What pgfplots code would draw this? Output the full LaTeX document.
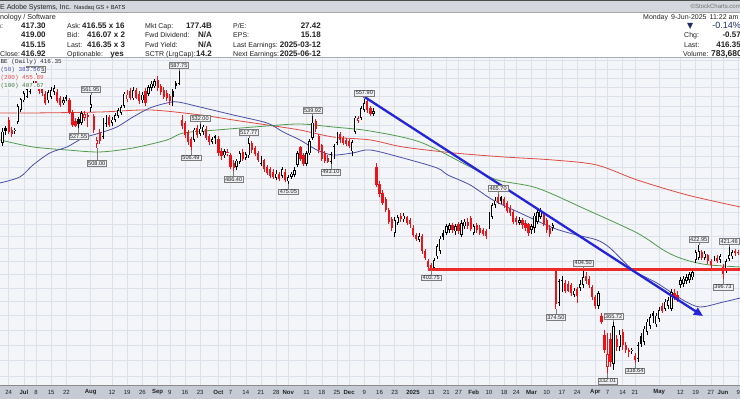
\documentclass[border=0pt]{standalone}
\usepackage{pgfplots}
\pgfplotsset{compat=1.18}
\usepackage{pgfplotstable}
\usepackage{fontspec}
\setmainfont{Liberation Sans}
\setmonofont{Liberation Mono}
\newfontfamily\dejavu{DejaVu Sans}
\usetikzlibrary{arrows.meta}

\definecolor{chartbg}{HTML}{F3F5F9}
\definecolor{gridc}{HTML}{DDE2EA}
\definecolor{candred}{HTML}{E8141A}
\definecolor{smablue}{HTML}{4B4FA6}
\definecolor{smared}{HTML}{DF4A42}
\definecolor{smagreen}{HTML}{4F9A4B}
\definecolor{trend}{HTML}{2424D8}
\definecolor{hline}{HTML}{EC2A2A}
\definecolor{topbar}{HTML}{D4D7DE}
\definecolor{axbar}{HTML}{C5CAD4}
\definecolor{sepgray}{HTML}{A9ADB6}
\definecolor{lblfill}{HTML}{EEEFF2}
\definecolor{lbldraw}{HTML}{7C7C7C}
\definecolor{navy}{HTML}{1F2F66}
\definecolor{txt}{HTML}{222222}

% OHLC, k: 0 hollow black, 1 filled black, 2 hollow red, 3 filled red
\pgfplotstableread{
x o h l c k
-2 513 528 510 524 0
-1 528 530 521 524.5 1
0 536 539 522 524 3
1 526 529 519 522 3
2 525 528 522 526 0
3 534 552 532 550 0
4 546 559 544 557 0
5 556 566 554 564 0
6 560 570 558 568 0
7 565 574 563 572 0
8 572 580 570 578 0
9 579 583.55 572 574 3
10 573 575 563 566 3
11 569 572 561 564 3
12 563 566 551 553 3
13 556 567 553 565 0
14 560 570 557 567 0
15 565 572 562 569 0
16 565 568 553 555 3
17 558 561 549 551 3
18 553 560 551 556 0
19 560 562 555 557 1
20 556 558 542 544 3
21 544 546 529 531 3
22 535 538 528.5 530 3
23 537 539 527.55 532 1
24 533 545 531 543 0
25 538 545 535 542 2
26 541 543 529 538.5 3
27 548 561.95 544 552 0
28 540 542 523 526 3
29 512 519 508 516 2
30 524 527 512 515 3
31 519 538 517 535 0
32 532 541 529 538 0
33 539 541 529 531 3
34 533 539 530 536 0
35 536 543 534 541 0
36 540 548 538 546 0
37 543 551 541 549 0
38 550 565 548 563 0
39 557 567 554 562 2
40 566 569 556 559 3
41 558 570 556 567 0
42 567 569 557 559 3
43 563 566 552 555 3
44 556 565 553 562 0
45 566 569 550 553 3
46 563 572 561 570 0
47 569 577 566 574 0
48 571 579 569 577 0
49 578 582 566 569 3
50 571 574 562 565 3
51 567 570 557 560 3
52 564 567 555 558 3
53 561 563 551 555 3
54 566 568 550 560 1
55 575 577 568 571 1
56 574 587.75 572 586 0
57 536 541 527 530 3
58 533 535 518 521 3
59 524 526 511 514 3
60 517 519 506.49 509 3
61 516 528 514 526 0
62 528 531 518 521 3
63 522 532 520 527 0
64 524 531 521 529 0
65 527 530 516 518 3
66 520 522 511 514 3
67 514 519 512 517 0
68 520 521 512 517.5 1
69 517 520 500 503 3
70 505 508 497 500 3
71 501 507 499 505 0
72 503 507 500 503.8 2
73 501 503 488 490 3
74 494 497 486.4 489 3
75 490 498 487 496 0
76 495 505 493 503 0
77 504 507 496 498 3
78 499 504 497 502 0
79 501 517.77 499 513 0
80 513 515 503 506 3
81 508 510 500 502 3
82 503 505 495 497 3
83 493 500 491 498 0
84 497 498 486 488 3
85 490 492 483 485 3
86 488 490 480 482 3
87 486 488 479 481 3
88 480 487 478 484 0
89 484 486 477 479 3
90 482 490 480 488 0
91 486 488 476 478 3
92 477 483 475.05 481 0
93 481 486 479 484 0
94 483 490 481 487 0
95 492 505 490 503 0
96 509 510 496 498 3
97 501 503 491 493 3
98 493 505 491 503 0
99 503 517 501 515 0
100 518 539.92 516 533 0
101 535 537 524 527 3
102 520 522 503 506 3
103 511 512 496 498 3
104 503 505 494 496 3
105 499 501 494 495 3
106 495 504 493.1 502 0
107 500 512 498 510 0
108 513 524 511 522 0
109 522 524 513 516 3
110 518 520 511 513 3
111 516 518 510 512 3
112 515 517 508 510 3
113 505 516 500 514 0
114 524 540 522 538 0
115 535 540 533 537.5 2
116 538 550 536 548 0
117 546 557.9 544 553 0
118 555 557 543 546 3
119 548 550 540 542 3
120 542 548 540 545 0
121 490 494 472 474 3
122 475 477 463 466 3
123 467 469 456 458 3
124 461 463 450 452 3
125 452 454 440 442 3
126 444 446 434 437 3
127 433 446 429 443 0
128 441 448 439 446 0
129 447 449 442 444 3
130 444 449 442 447 0
131 446 447 439 441 3
132 443 445 437 440 3
133 437 439 429 431 3
134 431 433 426 428 3
135 427 433 425 430 0
136 430 432 416 418 3
137 418 420 411 413 3
138 410 412 404.5 406 3
139 407 409 403.75 405 3
140 405 413 404 411 0
141 414 424 412 422 0
142 418 430 416 428 0
143 433 435 427 429 1
144 433 440 431 438 0
145 435 441 433 439 0
146 439 441 433 435 3
147 434 440 431 438 0
148 440 442 432 434 3
149 431 443 429 441 0
150 438 444 436 442 0
151 442 445 436 438 3
152 445 447 434 436 3
153 433 440 431 438 0
154 439 441 433 435 3
155 437 439 431 433 3
156 435 437 430 432 3
157 434 436 428 430.5 3
158 438 450 436 448 0
159 446 458 444 456 0
160 456 463 454 460 0
161 463 465.7 457 459 3
162 463 464 457 460 1
163 461 463 454 456 3
164 458 460 449 451 3
165 454 456 447 449 3
166 450 452 440 442 3
167 445 447 439 441.5 3
168 441 446 439 443 0
169 443 445 436 439 3
170 441 443 434 437 3
171 440 441 430 433 3
172 435 440 432 438 0
173 437 449 433 447 0
174 442 452 440 450 0
175 446 454 444 451 0
176 448 450 438 440 3
177 443 445 433 435 3
178 437 439 429 432 3
179 437 441 434 439 0
180 403 404 374.5 378 3
181 379 397 377 395 0
182 389 399 387 396 0
183 394 396 386 388 3
184 393 395 387 387.5 3
185 392 394 384 386 3
186 385 390 383 388 0
187 389 391 379 384 3
188 390 396 388 393 0
189 392 404.5 390 398 0
190 399 402 393 395 3
191 397 399 390 392 3
192 391 392 381 383 3
193 383 385 375 377 3
194 377 388 375 386 0
195 370 372 364 366 3
196 357 360 345 347 3
197 336 358 332.01 344 2
198 354 358 336 339 3
199 338 365.72 334 363 0
200 354 357 346 349 3
201 349 360 346 357 0
202 359 361 347 350 3
203 350 352 345 347 3
204 346.5 348 342 345.5 3
205 346 348 344 346.6 0
206 343 345 338.64 340 3
207 341 352 339 350 0
208 356 358 349 351 1
209 352 363 350 361 0
210 359 368 357 366 0
211 363 371 361 369 0
212 372 373 365 369.5 1
213 364 372 362 370 0
214 368 376 366 374 0
215 377 379 372 373.5 3
216 375 382 373 380 0
217 377 383 375 381 0
218 375 389 373 387 0
219 386 389 381 383 3
220 385 388 380 382 3
221 392 398 390 396 0
222 393 399 391 397 0
223 395 400 393 398 0
224 396 402 394 400 0
225 398 404 396 402 0
226 411 419 409 417 0
227 413 422.95 411 418 0
228 417 419 411 413 3
229 413 418 411 416 0
230 415 416 408 410 3
231 410 412 405 407 3
232 412 414 410 412.6 0
233 413 415 409 410 3
234 411 416 409 414 0
235 406 408 396.73 400 3
236 403 412 401 410 0
237 412 421.46 410 415 0
238 414 419 412 417 0
239 418 419.5 414 416.92 3
240 417.3 419 415.15 416.35 3
}\ohlc

\pgfplotstableread{
x y
-2.84 475.6
3.7 481.0
8.0 492.0
13.6 503.4
19.2 509.1
24.5 517.8
30.0 522.7
35.6 528.7
40.9 538.8
46.5 548.1
52.1 553.3
55.7 554.3
62.9 549.1
73.8 540.9
85.0 532.7
90.3 523.7
95.8 515.9
101.4 506.2
106.7 501.4
113.3 503.4
118.9 506.2
129.7 498.6
140.9 489.3
144.5 482.8
151.8 473.8
159.3 460.5
168.2 449.4
179.1 436.8
186.9 431.0
193.5 427.0
197.8 420.6
205.4 403.4
213.3 393.6
221.8 381.2
227.4 376.2
235.0 379.7
240.6 382.6
}\smaA

\pgfplotstableread{
x y
-2.84 542.9
8 542.9
30 543.9
46.5 546.0
63 540.9
73.8 535.8
85 530.7
95.8 525.7
106.7 518.8
118.9 515.9
129.7 509.1
146.2 503.4
162.6 499.6
179.1 496.7
193.5 492.0
206.7 478.3
223.2 464.9
240.6 454.5
}\smaB

\pgfplotstableread{
x y
-2.84 515.9
8 509.1
19.2 506.2
30 504.3
40.9 508.1
52.1 515.9
57.4 522.7
68.5 525.7
85 529.7
95.8 531.7
106.7 528.7
118.9 524.7
135.3 513.9
151.8 490.2
160.7 478.3
173.8 471.1
190.3 451.9
206.7 432.7
215.3 419.0
219.9 413.5
225.1 409.6
230.7 407.2
240.6 405.7
}\smaC

\pgfplotsset{
  candle/.style 2 args={draw=none, mark=none, forget plot,
    error bars/.cd, y dir=plus, y explicit, error mark=none,
    error bar style={line width=#2, draw=#1, line cap=butt}},
  hollowin/.style={draw=none, mark=none, forget plot,
    error bars/.cd, y dir=plus, y explicit, error mark=none,
    error bar style={line width=0.95pt, draw=white, line cap=butt,
      shorten <=0.7pt, shorten >=0.7pt}},
}
\tikzset{
  lbl/.style={draw=lbldraw, fill=lblfill, line width=0.4pt, inner xsep=1.1pt,
    inner ysep=0.9pt, font=\fontsize{5.6}{6}\selectfont, text=black!85},
}
\newcommand{\hilab}[3]{\draw[lbldraw, line width=0.4pt] (axis cs:#1,#2) -- ++(0pt,2.5pt) node[lbl, anchor=south] {#3};}
\newcommand{\lolab}[4][5pt]{\draw[lbldraw, line width=0.4pt] (axis cs:#2,#3) -- ++(0pt,-#1) node[lbl, anchor=north] {#4};}

\begin{document}
\begin{tikzpicture}
\useasboundingbox (0,0) rectangle (740pt,399pt);
\clip (0,0) rectangle (740pt,399pt);
\begin{scope}[x=1pt, y=-1pt, shift={(0pt,399pt)}]
  \fill[white] (0,0) rectangle (740,399);
  \fill[topbar] (0,0) rectangle (740,12);
  \draw[black!70, line width=1pt] (0,0.5) -- (740,0.5);
  \draw[black!35, line width=0.6pt] (0,12) -- (740,12);
  \fill[sepgray] (0,56.8) rectangle (740,58.6);
  \fill[axbar] (0,385) rectangle (740,399);
  \draw[black!45, line width=0.6pt] (0,385.3) -- (740,385.3);
\end{scope}

\begin{axis}[
  at={(0pt,14pt)}, anchor=south west,
  width=740pt, height=327pt, scale only axis,
  xmin=-2.842, xmax=240.58,
  ymode=log, ymin=324.56, ymax=602.45,
  axis background/.style={fill=chartbg},
  axis line style={draw=none},
  major tick length=0pt,
  yminorticks=false, xminorticks=false,
  xtick={0,5,9,14,19,27,34,39,44,49,53,58,63,69,73,78,83,88,92,98,103,108,112,117,122,127,133,139,144,148,153,158,163,167,172,177,182,187,193,197,202,206,214,221,226,231,235,240},
  xticklabels={24,\textbf{Jul},8,15,22,\textbf{Aug},12,19,26,\textbf{Sep},9,16,23,\textbf{Oct},7,14,21,28,\textbf{Nov},11,18,25,\textbf{Dec},9,16,23,\textbf{2025},13,21,27,\textbf{Feb},10,18,24,\textbf{Mar},10,17,24,\textbf{Apr},7,14,21,\textbf{May},12,19,27,\textbf{Jun},9},
  xticklabel style={anchor=center, yshift=-7.2pt, inner sep=0pt, font=\fontsize{6}{7}\selectfont, text=txt},
  ytick=\empty,
  xmajorgrids=true,
  major grid style={draw=gridc, line width=0.45pt},
]
% horizontal grid, every 10 dollars
\pgfplotsinvokeforeach{330,340,...,600}{
  \draw[gridc, line width=0.45pt] (axis cs:-3,#1) -- (axis cs:241,#1);
}
% moving averages
\addplot[smared, line width=0.8pt, smooth, forget plot] table[x=x, y=y] {\smaB};
\addplot[smagreen, line width=0.8pt, smooth, forget plot] table[x=x, y=y] {\smaC};
\addplot[smablue, line width=0.8pt, smooth, forget plot] table[x=x, y=y] {\smaA};

% wicks
\addplot[restrict expr to domain={\thisrow{k}}{0:1}, candle={black}{0.75pt}]
  table[x=x, y=l, y error expr=\thisrow{h}-\thisrow{l}] {\ohlc};
\addplot[restrict expr to domain={\thisrow{k}}{2:3}, candle={candred}{0.75pt}]
  table[x=x, y=l, y error expr=\thisrow{h}-\thisrow{l}] {\ohlc};
% filled bodies
\addplot[restrict expr to domain={\thisrow{k}}{1:1}, candle={black}{2.2pt}]
  table[x=x, y expr={min(\thisrow{o},\thisrow{c})}, y error expr={abs(\thisrow{c}-\thisrow{o})}] {\ohlc};
\addplot[restrict expr to domain={\thisrow{k}}{3:3}, candle={candred}{2.2pt}]
  table[x=x, y expr={min(\thisrow{o},\thisrow{c})}, y error expr={abs(\thisrow{c}-\thisrow{o})}] {\ohlc};
% hollow bodies
\addplot[restrict expr to domain={\thisrow{k}}{0:0}, candle={black}{2.3pt}]
  table[x=x, y expr={min(\thisrow{o},\thisrow{c})}, y error expr={abs(\thisrow{c}-\thisrow{o})}] {\ohlc};
\addplot[restrict expr to domain={\thisrow{k}}{2:2}, candle={candred}{2.3pt}]
  table[x=x, y expr={min(\thisrow{o},\thisrow{c})}, y error expr={abs(\thisrow{c}-\thisrow{o})}] {\ohlc};
\addplot[restrict expr to domain={\thisrow{k}}{0:0}, hollowin]
  table[x=x, y expr={min(\thisrow{o},\thisrow{c})}, y error expr={abs(\thisrow{c}-\thisrow{o})}] {\ohlc};
\addplot[restrict expr to domain={\thisrow{k}}{2:2}, hollowin]
  table[x=x, y expr={min(\thisrow{o},\thisrow{c})}, y error expr={abs(\thisrow{c}-\thisrow{o})}] {\ohlc};

% annotations
\draw[hline, line width=2.3pt] (axis cs:137.9,403.75) -- (axis cs:242,403.75);
\draw[trend, line width=2.3pt, -{Triangle[length=9pt,width=8pt]}] (axis cs:116.6,560.6) -- (axis cs:228.4,369.8);

\hilab{9}{583.55}{583.55}
\hilab{27}{561.95}{561.95}
\lolab{23}{527.55}{527.55}
\lolab[12pt]{29}{508}{508.00}
\hilab{56}{587.75}{587.75}
\hilab{63}{532}{532.00}
\lolab{60}{506.49}{506.49}
\lolab{74}{486.4}{486.40}
\hilab{79}{517.77}{517.77}
\lolab{92}{475.05}{475.05}
\hilab{100}{539.92}{539.92}
\lolab{106}{493.1}{493.10}
\hilab{117}{557.9}{557.90}
\hilab{161}{465.7}{465.70}
\lolab{139}{403.75}{403.75}
\lolab{180}{374.5}{374.50}
\hilab{189}{404.5}{404.50}
\lolab{197}{332.01}{332.01}
\hilab{199}{365.72}{365.72}
\lolab{206}{338.64}{338.64}
\hilab{227}{422.95}{422.95}
\hilab{237}{421.46}{421.46}
\lolab{235}{396.73}{396.73}
\end{axis}

\begin{scope}[x=1pt, y=-1pt, shift={(0pt,399pt)}]
  % chart legend
  \node[anchor=base west, inner xsep=0.4pt, inner ysep=0pt, fill=chartbg, font=\ttfamily\fontsize{6}{7}\selectfont, text=black!85] at (0,64) {BE (Daily) 416.35};
  \node[anchor=base west, inner xsep=0.4pt, inner ysep=0pt, fill=chartbg, font=\ttfamily\fontsize{6}{7}\selectfont, text=smablue] at (0,72) {(50) 383.56};
  \node[anchor=base west, inner xsep=0.4pt, inner ysep=0pt, fill=chartbg, font=\ttfamily\fontsize{6}{7}\selectfont, text=smared] at (0,79.8) {(200) 455.89};
  \node[anchor=base west, inner xsep=0.4pt, inner ysep=0pt, fill=chartbg, font=\ttfamily\fontsize{6}{7}\selectfont, text=smagreen!80!black] at (0,87.3) {(100) 407.67};

  % top bar
  \node[anchor=base west, inner sep=0pt, font=\fontsize{7}{8}\selectfont, text=txt] at (0,9.2) {E Adobe Systems, Inc.};
  \node[anchor=base west, inner sep=0pt, font=\fontsize{5.8}{7}\selectfont, text=txt] at (74,9.2) {Nasdaq GS + BATS};
  \node[anchor=base east, inner sep=0pt, font=\fontsize{6}{7}\selectfont, text=black!55] at (741,8.8) {\textcopyright StockCharts.com};

  % info rows
  \node[anchor=base west, inner sep=0pt, font=\fontsize{7.2}{8}\selectfont, text=txt] at (0,19.5) {nology / Software};
  \begin{scope}[every node/.style={inner sep=0pt, text=txt, font=\fontsize{7}{8}\selectfont}]
    \node[anchor=base west] at (-16.3,28.3) {Open:};
    \node[anchor=base west] at (-16.3,37.6) {High:};
    \node[anchor=base west] at (-16.3,47.1) {Low:};
    \node[anchor=base west] at (-16.3,56.4) {Prev Close:};
    \node[anchor=base west] at (67,28.3) {Ask:};
    \node[anchor=base west] at (67,37.6) {Bid:};
    \node[anchor=base west] at (67,47.1) {Last:};
    \node[anchor=base west] at (67,56.4) {Optionable:};
    \node[anchor=base west] at (145,28.3) {Mkt Cap:};
    \node[anchor=base west] at (145,37.6) {Fwd Dividend:};
    \node[anchor=base west] at (145,47.1) {Fwd Yield:};
    \node[anchor=base west] at (145,56.4) {SCTR (LrgCap):};
    \node[anchor=base west] at (233,28.3) {P/E:};
    \node[anchor=base west] at (233,37.6) {EPS:};
    \node[anchor=base west] at (233,47.1) {Last Earnings:};
    \node[anchor=base west] at (233,56.4) {Next Earnings:};
  \end{scope}
  \begin{scope}[every node/.style={inner sep=0pt, text=txt, font=\bfseries\fontsize{8}{9}\selectfont}]
    \node[anchor=base west] at (21,28.3) {417.30};
    \node[anchor=base west] at (21,37.6) {419.00};
    \node[anchor=base west] at (21,47.1) {415.15};
    \node[anchor=base west] at (21,56.4) {416.92};
    \node[anchor=base west] at (82,28.3) {416.55 x 16};
    \node[anchor=base west] at (87,37.6) {416.07 x 2};
    \node[anchor=base west] at (87,47.1) {416.35 x 3};
    \node[anchor=base east] at (124,56.4) {yes};
    \node[anchor=base east] at (212,28.3) {177.4B};
    \node[anchor=base east] at (212,37.6) {N/A};
    \node[anchor=base east] at (212,47.1) {N/A};
    \node[anchor=base east] at (212,56.4) {14.2};
    \node[anchor=base east] at (321,28.3) {27.42};
    \node[anchor=base east] at (321,37.6) {15.18};
    \node[anchor=base east] at (321,47.1) {2025-03-12};
    \node[anchor=base east] at (321,56.4) {2025-06-12};
  \end{scope}

  % right info
  \node[anchor=base west, inner sep=0pt, font=\fontsize{7}{8}\selectfont, text=txt] at (643,19.2) {Monday\, 9-Jun-2025\, 11:22 am};
  \node[anchor=base west, inner sep=0pt, font=\dejavu\fontsize{8}{9}\selectfont, text=navy] at (687,28.3) {▼};
  \node[anchor=base east, inner sep=0pt, font=\fontsize{9}{10}\selectfont, text=navy] at (741,28.6) {-0.14\%};
  \node[anchor=base west, inner sep=0pt, font=\fontsize{7}{8}\selectfont, text=txt] at (684,37.6) {Chg:};
  \node[anchor=base east, inner sep=0pt, font=\bfseries\fontsize{8}{9}\selectfont, text=txt] at (741,37.6) {-0.57};
  \node[anchor=base west, inner sep=0pt, font=\fontsize{7}{8}\selectfont, text=txt] at (684,47.1) {Last:};
  \node[anchor=base east, inner sep=0pt, font=\bfseries\fontsize{8}{9}\selectfont, text=txt] at (741,47.1) {416.35};
  \node[anchor=base west, inner sep=0pt, font=\fontsize{7}{8}\selectfont, text=txt] at (683,56.4) {Volume:};
  \node[anchor=base east, inner sep=0pt, font=\bfseries\fontsize{8.5}{9}\selectfont, text=txt] at (742,56.4) {783,680};
\end{scope}
\end{tikzpicture}
\end{document}
